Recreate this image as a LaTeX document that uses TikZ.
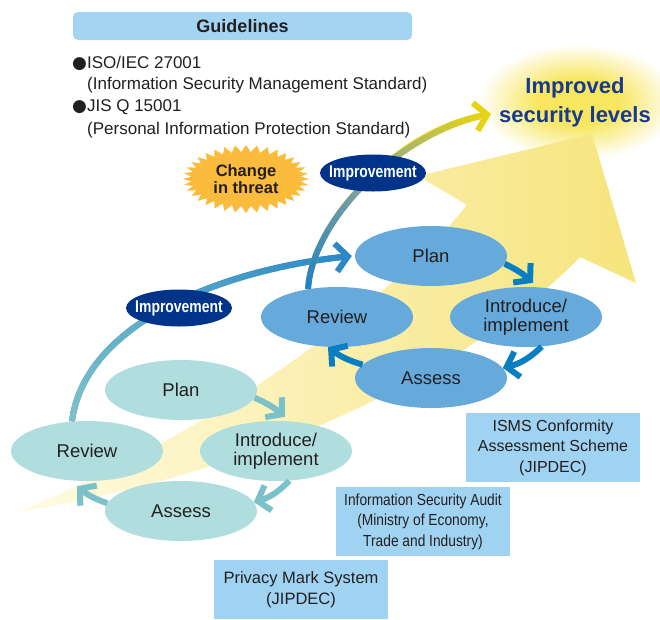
\documentclass[tikz,border=0pt]{standalone}
\usepackage{fontspec}
\setmainfont{Liberation Sans}
\newfontfamily\narrowfont[FakeStretch=0.86]{Liberation Sans}
\newfontfamily\impfont[FakeStretch=0.82]{Liberation Sans}
\newfontfamily\symfont{DejaVu Sans}
\usetikzlibrary{arrows.meta,shapes.geometric,calc}
\pgfdeclarelayer{bg}
\pgfsetlayers{bg,main}
\definecolor{txt}{HTML}{231F20}
\definecolor{boxblue}{HTML}{A0D3F1}
\definecolor{guideblue}{HTML}{A3D5F2}
\definecolor{ellblue}{HTML}{66AADC}
\definecolor{ellteal}{HTML}{B0DEDF}
\definecolor{navy}{HTML}{00338A}
\definecolor{arrblue}{HTML}{0A7EC2}
\definecolor{arrteal}{HTML}{7CC1C9}
\definecolor{burst}{HTML}{FBBB3C}
\definecolor{ylight}{HTML}{FFFBE2}
\definecolor{ydark}{HTML}{F6E47C}
\definecolor{glowc}{HTML}{F8E660}
\definecolor{titlenavy}{HTML}{173A8E}
\definecolor{arcAstart}{HTML}{7CC1C9}
\definecolor{arcAend}{HTML}{2C89C5}
\definecolor{arcBstart}{HTML}{1F82C2}
\definecolor{arcBmid}{HTML}{8AA59A}
\definecolor{arcBend}{HTML}{E6D414}
\pgfdeclareradialshading{glowshade}{\pgfpoint{0bp}{0bp}}{color(0bp)=(glowc); color(10bp)=(glowc); color(25bp)=(white); color(50bp)=(white)}
\tikzset{
  ellU/.style={ellipse, fill=ellblue, minimum width=152pt, minimum height=60pt, inner sep=0pt, font=\fontsize{18.5}{19}\selectfont, text=txt, align=center},
  ellL/.style={ellU, fill=ellteal},
  impnode/.style={ellipse, fill=navy, minimum width=106pt, minimum height=37pt, inner xsep=-16pt, inner ysep=0pt, text=white, font=\impfont\bfseries\fontsize{17}{17}\selectfont},
  infobox/.style={rectangle, fill=boxblue, minimum width=174pt, inner sep=0pt, text=txt, align=center},
  bul/.style={font=\fontsize{17}{17}\selectfont, text=txt, inner sep=0pt, anchor=west},
  cycU/.style={line width=6pt, draw=arrblue, -{Straight Barb[length=11pt,width=26pt]}},
  cycL/.style={cycU, draw=arrteal},
  bigtip/.style={-{Straight Barb[length=12pt,width=28pt]}},
}
\newcommand{\blt}{{\symfont\fontsize{17}{17}\selectfont ●}}
\begin{document}
\begin{tikzpicture}[x=1pt,y=-1pt]
\useasboundingbox (0,0) rectangle (660,619);

% nodes
\node[fill=guideblue, rounded corners=5pt, minimum width=339pt, minimum height=28pt, inner sep=0pt, font=\bfseries\fontsize{18}{18}\selectfont, text=txt] (guide) at (242.5,26) {Guidelines};
\node[bul] (b1) at (72,63) {\blt ISO/IEC 27001};
\node[bul] (b2) at (87,85) {(Information Security Management Standard)};
\node[bul] (b3) at (72,107) {\blt JIS Q 15001};
\node[bul] (b4) at (87,130) {(Personal Information Protection Standard)};

\node[font=\bfseries\fontsize{22}{29.5}\selectfont, text=titlenavy, align=center] (goalt) at (575,102.5) {Improved\\security levels};

% starburst
\fill[burst] plot[samples at={0,5,...,355}] ({246+(63-8*mod(round(\x/5),2))*cos(\x)}, {179+(34-7*mod(round(\x/5),2))*sin(\x)}) -- cycle;
\node[font=\bfseries\fontsize{16.5}{17}\selectfont, text=txt, align=center] (threat) at (246,179) {Change\\in threat};

% upper cycle
\node[ellU] (P2) at (431,256) {Plan};
\node[ellU] (I2) at (526,317) {Introduce/\\implement};
\node[ellU] (A2) at (431,378) {Assess};
\node[ellU] (R2) at (337,317) {Review};
% lower cycle
\node[ellL] (P1) at (181,390) {Plan};
\node[ellL] (I1) at (276,451) {Introduce/\\implement};
\node[ellL] (A1) at (181,511) {Assess};
\node[ellL] (R1) at (87,451) {Review};

\node[impnode] (imp2) at (373,173) {Improvement};
\node[impnode] (imp1) at (179,308) {Improvement};

% boxes
\node[infobox, minimum height=69pt, font=\fontsize{16}{20.5}\selectfont] (isms) at (553,447.5) {ISMS Conformity\\Assessment Scheme\\(JIPDEC)};
\node[infobox, minimum height=69pt, font=\narrowfont\fontsize{16}{20.5}\selectfont] (audit) at (423,521.5) {Information Security Audit\\(Ministry of Economy,\\Trade and Industry)};
\node[infobox, minimum height=59pt, font=\fontsize{16.5}{21}\selectfont] (pm) at (301,589.5) {Privacy Mark System\\(JIPDEC)};

\coordinate (goal) at (491,114);

% cycle arrows
\draw[cycU] (P2.-6) to[bend left=8] ([shift={(7,-4)}]I2.north);
\draw[cycU] (I2.-62) to[bend left=15] (A2.8);
\draw[cycU] (A2.169) to[bend left=10] ([xshift=-9pt]R2.south);
\draw[cycL] (P1.-6) to[bend left=8] ([shift={(9,-4)}]I1.north);
\draw[cycL] (I1.-66) to[bend left=15] (A1.7);
\draw[cycL] (A1.174) to[bend left=10] ([shift={(-10,5)}]R1.south);

\begin{pgfonlayer}{bg}
% glow
\shade[shading=glowshade] (578,102) ellipse [x radius=100, y radius=58];
% big yellow arrow
\shade[left color=ylight, right color=ydark] (17,512) .. controls (220,430) and (390,300) .. (467,205) -- (418,176) -- (592,134) -- (636,283) -- (580,257) .. controls (480,360) and (280,470) .. cycle;
% arc A
\draw[line width=6pt, arcAend, bigtip] (R1.117) .. controls (85,320) and (230,268) .. ([xshift=-3pt]P2.west);
\foreach \i in {0,...,37}{
  \pgfmathsetmacro\s{\i*9}
  \pgfmathsetmacro\p{100*\i/37}
  \draw[line width=6pt, draw=arcAend!\p!arcAstart, dash pattern=on 0pt off \s pt on 10pt off 2000pt] (R1.117) .. controls (85,320) and (230,268) .. ([xshift=-3pt]P2.west);
}
% arc B
\draw[line width=6pt, arcBend, bigtip] (R2.136) .. controls (312,220) and (400,130) .. (goal);
\foreach \i in {0,...,36}{
  \pgfmathsetmacro\s{\i*7}
  \pgfmathsetmacro\p{\i<18 ? 100*\i/18 : 100*(\i-18)/18}
  \ifnum\i<18
    \draw[line width=6pt, draw=arcBmid!\p!arcBstart, dash pattern=on 0pt off \s pt on 8pt off 2000pt] (R2.136) .. controls (312,220) and (400,130) .. (goal);
  \else
    \draw[line width=6pt, draw=arcBend!\p!arcBmid, dash pattern=on 0pt off \s pt on 8pt off 2000pt] (R2.136) .. controls (312,220) and (400,130) .. (goal);
  \fi
}
\end{pgfonlayer}
\end{tikzpicture}
\end{document}
